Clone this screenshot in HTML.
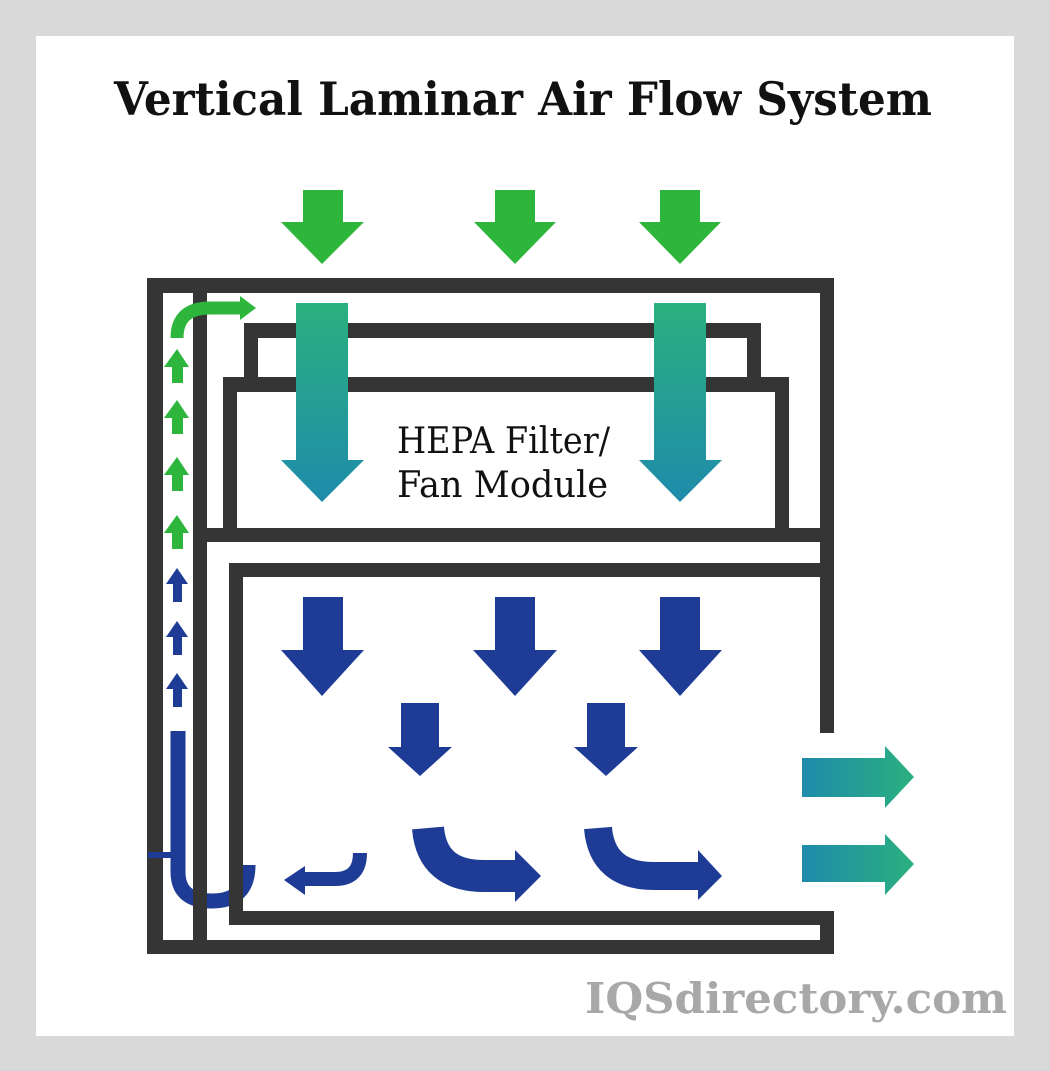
<!DOCTYPE html>
<html><head><meta charset="utf-8"><style>
html,body{margin:0;padding:0;background:#d9d9d9;}
svg{display:block;}
</style></head><body>
<svg width="1050" height="1071" viewBox="0 0 1050 1071" xmlns="http://www.w3.org/2000/svg">
<defs>
<linearGradient id="gv" x1="0" y1="0" x2="0" y2="1"><stop offset="0" stop-color="#2bb07f"/><stop offset="1" stop-color="#1e8bab"/></linearGradient>
<linearGradient id="gh" x1="0" y1="0" x2="1" y2="0"><stop offset="0" stop-color="#1e8bab"/><stop offset="1" stop-color="#2bb07f"/></linearGradient>
</defs>
<rect x="0" y="0" width="1050" height="1071" fill="#d9d9d9"/>
<rect x="36" y="36" width="978" height="1000" fill="#fff"/>
<text x="523" y="115" text-anchor="middle" font-family="'DejaVu Serif','Liberation Serif',serif" font-weight="bold" font-size="46" textLength="818" lengthAdjust="spacingAndGlyphs" fill="#111">Vertical Laminar Air Flow System</text>

<!-- top green arrows -->
<g fill="#2db53c">
<polygon points="303,190 343,190 343,222 364,222 322,264 281,222 303,222"/>
<polygon points="495,190 535,190 535,222 556,222 515,264 474,222 495,222"/>
<polygon points="660,190 700,190 700,222 721,222 680,264 639,222 660,222"/>
</g>

<!-- frame -->
<g fill="#353535">
<rect x="147" y="278" width="686" height="15"/>
<rect x="147" y="278" width="16" height="676"/>
<rect x="147" y="940" width="687" height="14"/>
<rect x="193" y="278" width="14" height="676"/>
<rect x="820" y="278" width="14" height="455"/>
<rect x="193" y="528" width="641" height="14"/>
<rect x="229" y="563" width="605" height="14"/>
<rect x="229" y="563" width="14" height="362"/>
<rect x="229" y="911" width="605" height="14"/>
<rect x="820" y="911" width="14" height="43"/>
<!-- filter boxes -->
<rect x="244" y="323" width="517" height="15"/>
<rect x="244" y="323" width="14" height="62"/>
<rect x="747" y="323" width="14" height="62"/>
<rect x="223" y="377" width="566" height="15"/>
<rect x="223" y="377" width="14" height="158"/>
<rect x="775" y="377" width="14" height="158"/>
</g>

<!-- teal arrows -->
<polygon points="296,303 348,303 348,460 364,460 322,502 281,460 296,460" fill="url(#gv)"/>
<polygon points="654,303 706,303 706,460 722,460 680,502 639,460 654,460" fill="url(#gv)"/>

<text x="397" y="453" font-family="'DejaVu Serif','Liberation Serif',serif" font-size="36" textLength="213" lengthAdjust="spacingAndGlyphs" fill="#111">HEPA Filter/</text>
<text x="397" y="497" font-family="'DejaVu Serif','Liberation Serif',serif" font-size="36" textLength="211" lengthAdjust="spacingAndGlyphs" fill="#111">Fan Module</text>

<!-- duct arrows -->
<g fill="#2db53c">
<polygon points="177,349 189,367 183,367 183,383 172,383 172,367 164,367"/>
<polygon points="177,400 189,418 183,418 183,434 172,434 172,418 164,418"/>
<polygon points="177,457 189,475 183,475 183,491 172,491 172,475 164,475"/>
<polygon points="177,515 189,533 183,533 183,549 172,549 172,533 164,533"/>
<polygon points="240,296 256,308 240,320"/>
</g>
<path d="M177 338 Q177 308 210 308 L242 308" stroke="#2db53c" stroke-width="13" fill="none"/>
<g fill="#1e3c96">
<polygon points="177,568 188,584 182,584 182,602 173,602 173,584 166,584"/>
<polygon points="177,621 188,637 182,637 182,655 173,655 173,637 166,637"/>
<polygon points="177,673 188,689 182,689 182,707 173,707 173,689 166,689"/>
</g>

<!-- blue arrows -->
<g fill="#1e3c96">
<polygon points="303,597 343,597 343,650 364,650 322,696 281,650 303,650"/>
<polygon points="495,597 535,597 535,650 557,650 515,696 473,650 495,650"/>
<polygon points="660,597 700,597 700,650 722,650 680,696 639,650 660,650"/>
<polygon points="401,703 439,703 439,747 452,747 420,776 388,747 401,747"/>
<polygon points="587,703 625,703 625,747 638,747 606,776 574,747 587,747"/>
<polygon points="515,850 541,876 515,902"/>
<polygon points="698,850 722,876 698,900"/>
<polygon points="305,866 284,880 305,895"/>
</g>
<path d="M428 828 Q432 876 484 876 L518 876" stroke="#1e3c96" stroke-width="32" fill="none"/>
<path d="M598 828 Q602 876 654 876 L700 876" stroke="#1e3c96" stroke-width="28" fill="none"/>
<path d="M360 853 Q360 879 335 879 L303 879" stroke="#1e3c96" stroke-width="14" fill="none"/>
<path d="M178 731 L178 872 Q178 901 212 901 Q248 901 248 865" stroke="#1e3c96" stroke-width="15" fill="none"/>
<rect x="148" y="852" width="24" height="6" fill="#1e3c96"/>
<!-- redraw wall over U -->
<rect x="193" y="840" width="14" height="114" fill="#353535"/>
<rect x="229" y="840" width="14" height="85" fill="#353535"/>

<!-- exit arrows -->
<polygon points="802,758 885,758 885,746 914,777 885,808 885,797 802,797" fill="url(#gh)"/>
<polygon points="802,845 885,845 885,834 914,864 885,895 885,882 802,882" fill="url(#gh)"/>

<text x="1007" y="1013" text-anchor="end" font-family="'DejaVu Serif','Liberation Serif',serif" font-weight="bold" font-size="42" textLength="422" lengthAdjust="spacingAndGlyphs" fill="#a8a8a8">IQSdirectory.com</text>
</svg>
</body></html>
